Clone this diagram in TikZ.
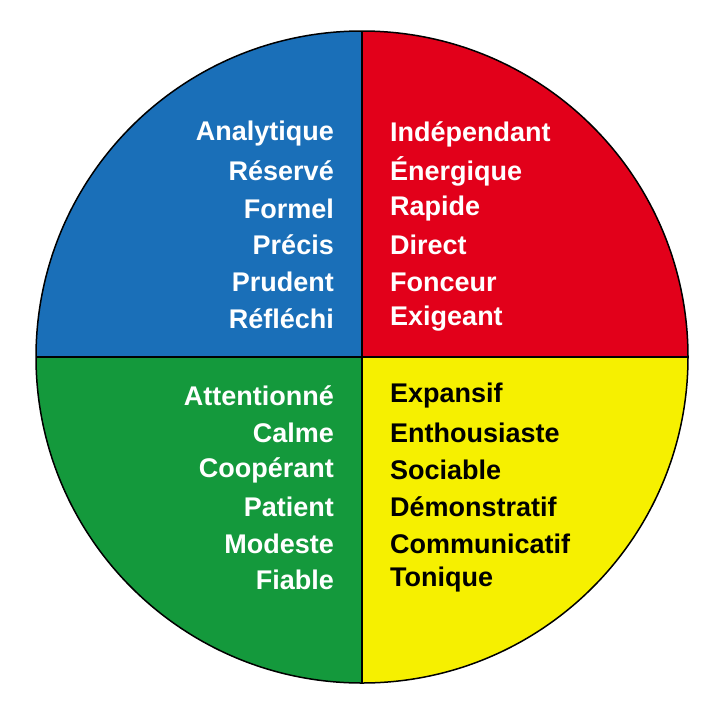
\documentclass[tikz,border=0pt]{standalone}
\usepackage{fontspec}
\setmainfont{Liberation Sans}
\definecolor{cb}{HTML}{1A6FB8}
\definecolor{cr}{HTML}{E2001A}
\definecolor{cg}{HTML}{14993C}
\definecolor{cy}{HTML}{F6F000}
\begin{document}
\begin{tikzpicture}[x=1pt,y=-1pt,
  lt/.style={anchor=east,font=\fontsize{27}{32}\selectfont\bfseries,inner sep=0pt},
  rt/.style={anchor=west,font=\fontsize{27}{32}\selectfont\bfseries,inner sep=0pt}]
\useasboundingbox (0,0) rectangle (720,713);
\coordinate (c) at (362,357);
\begin{scope}
\clip (c) circle[radius=326];
\fill[cb] (0,0) rectangle (362,357);
\fill[cr] (362,0) rectangle (720,357);
\fill[cg] (0,357) rectangle (362,713);
\fill[cy] (362,357) rectangle (720,713);
\end{scope}
\draw[line width=1.5pt] (c) circle[radius=326];
\draw[line width=1.5pt] (362,31) -- (362,683) (36,357) -- (688,357);
\foreach \t/\y [count=\i] in {Analytique/134,Réservé/171,Formel/209,Précis/245,Prudent/282,Réfléchi/319}
  \node[lt,white] (l\i) at (334,\y) {\t};
\foreach \t/\y [count=\i] in {Indépendant/134,Énergique/171,Rapide/209,Direct/245,Fonceur/282,Exigeant/319}
  \node[rt,white] (r\i) at (390,\y) {\t};
\foreach \t/\y [count=\i] in {Attentionné/396,Calme/433,Coopérant/470,Patient/507,Modeste/544,Fiable/580}
  \node[lt,white] (g\i) at (334,\y) {\t};
\foreach \t/\y [count=\i] in {Expansif/396,Enthousiaste/433,Sociable/470,Démonstratif/507,Communicatif/544,Tonique/580}
  \node[rt,black] (y\i) at (390,\y) {\t};
\end{tikzpicture}
\end{document}
